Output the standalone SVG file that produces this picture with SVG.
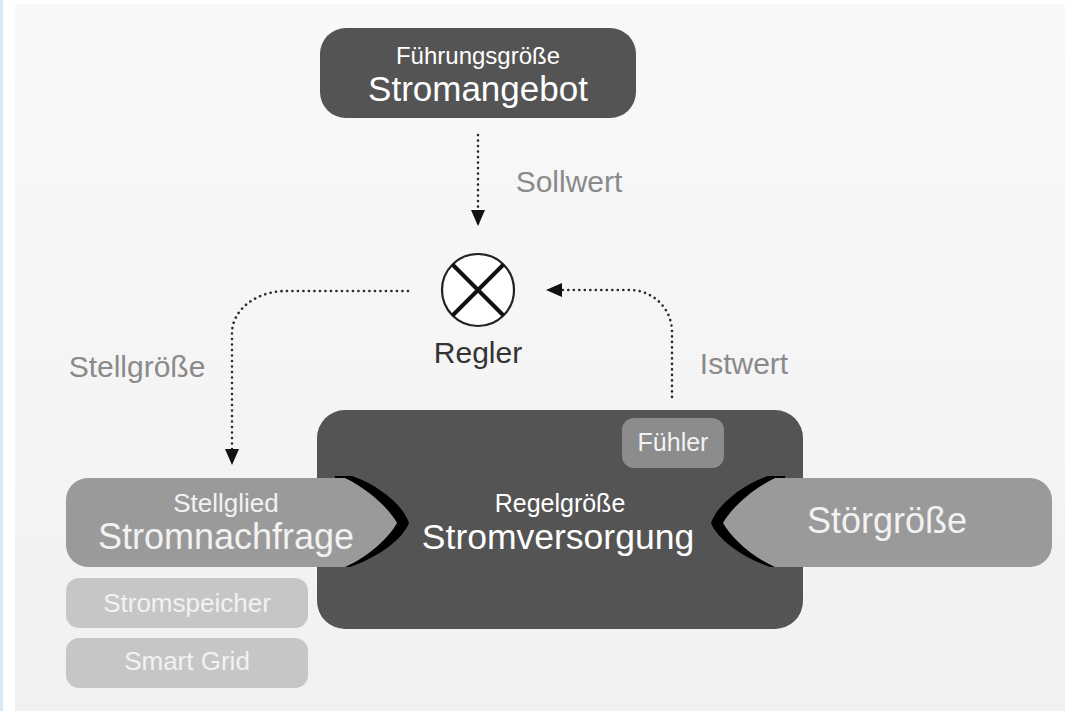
<svg xmlns="http://www.w3.org/2000/svg" width="1065" height="711" viewBox="0 0 1065 711">
  <style>
    text { font-family: "Liberation Sans", Arial, sans-serif; text-anchor: middle; }
    .dark { fill: #545454; }
    .mid { fill: #9a9a9a; }
    .light { fill: #c6c6c6; }
    .wt { fill: #ffffff; }
    .lt { fill: #f2f2f2; }
    .lbl { fill: #8a8a8a; font-size: 30px; }
    .conn { fill: none; stroke: #2a2a2a; stroke-width: 2.6; stroke-dasharray: 0.1 5.4; stroke-linecap: round; }
  </style>
  <defs>
    <linearGradient id="bg" x1="0" y1="0" x2="0" y2="1">
      <stop offset="0" stop-color="#f9f9f9"/>
      <stop offset="1" stop-color="#f1f1f1"/>
    </linearGradient>
    <marker id="arrBig" viewBox="0 0 16 14" refX="15" refY="7" markerWidth="17" markerHeight="14" markerUnits="userSpaceOnUse" orient="auto">
      <path d="M0,0 L16,7 L0,14 Z" fill="#111"/>
    </marker>
  </defs>

  <rect x="0" y="0" width="1065" height="711" fill="#ffffff"/>
  <rect x="0" y="0" width="3" height="711" fill="#dbe9f5"/>
  <rect x="15" y="4" width="1050" height="707" fill="url(#bg)"/>

  <g id="connectors">
    <path class="conn" d="M478 135 V225" marker-end="url(#arrBig)"/>
    <path class="conn" d="M408 291 H286 A54 42 0 0 0 232 333 V464" marker-end="url(#arrBig)"/>
    <path class="conn" d="M672 397 V332 A42 42 0 0 0 630 290 H547" marker-end="url(#arrBig)"/>
  </g>

  <g id="labels">
    <text class="lbl" x="569" y="192">Sollwert</text>
    <text class="lbl" x="137" y="377">Stellgröße</text>
    <text class="lbl" x="744" y="374">Istwert</text>
  </g>

  <g id="fuehrungsgroesse">
    <rect class="dark" x="320" y="28" width="316" height="90" rx="26"/>
    <text class="wt" x="478" y="64" font-size="24">Führungsgröße</text>
    <text class="wt" x="478" y="101" font-size="35">Stromangebot</text>
  </g>

  <g id="regler">
    <circle cx="478" cy="290" r="36" fill="#ffffff" stroke="#222" stroke-width="2.2"/>
    <path d="M452.5 264.5 L503.5 315.5 M503.5 264.5 L452.5 315.5" stroke="#111" stroke-width="4"/>
    <text x="478" y="363" font-size="30" fill="#333">Regler</text>
  </g>

  <g id="regelgroesse">
    <rect class="dark" x="317" y="410" width="486" height="219" rx="28"/>
    <text class="wt" x="560" y="512" font-size="25">Regelgröße</text>
    <text class="wt" x="558" y="549" font-size="35.5">Stromversorgung</text>
  </g>

  <g id="fuehler">
    <rect fill="#8c8c8c" x="622" y="418" width="102" height="50" rx="12"/>
    <text class="lt" x="673" y="451" font-size="25">Fühler</text>
  </g>

  <g id="stellglied">
    <path fill="#000" d="M335 476 H352 C381 486 404 507 409 523 C402 540 378 557 350 567 H335 Z"/>
    <path class="mid" d="M88 478 H345 C370 490 390 510 397 523 C390 536 370 556 345 567 H88 A22 22 0 0 1 66 545 V500 A22 22 0 0 1 88 478 Z"/>
    <text class="lt" x="226" y="512" font-size="26">Stellglied</text>
    <text class="lt" x="226" y="549" font-size="36">Stromnachfrage</text>
  </g>

  <g id="stoergroesse">
    <path fill="#000" d="M785 476 H768 C739 486 716 507 711 523 C718 540 742 557 770 567 H785 Z"/>
    <path class="mid" d="M775 478 H1030 A22 22 0 0 1 1052 500 V545 A22 22 0 0 1 1030 567 H775 C750 556 730 536 723 523 C730 510 750 490 775 478 Z"/>
    <text class="lt" x="887" y="533" font-size="36">Störgröße</text>
  </g>

  <g id="stromspeicher">
    <rect class="light" x="66" y="578" width="242" height="50" rx="13"/>
    <text class="lt" x="187" y="612" font-size="26">Stromspeicher</text>
  </g>

  <g id="smartgrid">
    <rect class="light" x="66" y="638" width="242" height="50" rx="13"/>
    <text class="lt" x="187" y="670" font-size="26">Smart Grid</text>
  </g>
</svg>
